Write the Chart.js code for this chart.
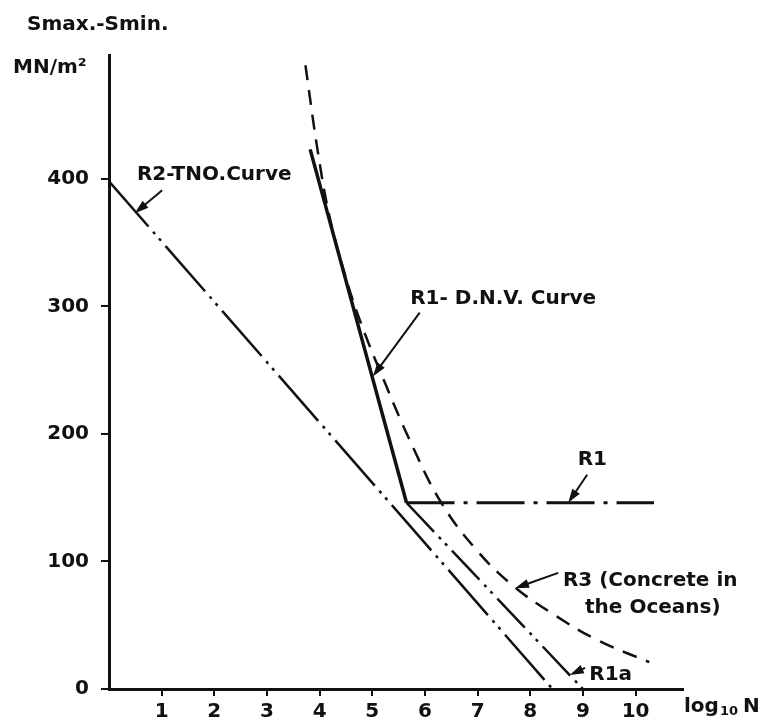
<!DOCTYPE html>
<html>
<head>
<meta charset="utf-8">
<script src="https://cdn.jsdelivr.net/npm/chart.js@4.4.1/dist/chart.umd.min.js"></script>
<style>
    body { margin: 0; background: #fff; }
    canvas { display: block; }
</style>
</head>
<body>
<canvas id="chart" width="769" height="728"></canvas>
<script>
// S-N curves (x = log10 N, y = Smax-Smin in MN/m2)
const xTicks = [1, 2, 3, 4, 5, 6, 7, 8, 9, 10];
const yTicks = [0, 100, 200, 300, 400];

// R2 - TNO curve
const r2X = [0, 8.42];
const r2Y = [398, 0];

// R1 - D.N.V. curve, steep part then the flat part
const r1X = [3.82, 5.65];
const r1Y = [423, 146];
const r1FlatX = [5.65, 10.35];
const r1FlatY = [146, 146];

// R1a
const r1aX = [5.65, 9.0];
const r1aY = [146, 0];

// R3 - concrete in the oceans
const r3X = [3.73, 3.97, 4.2, 4.5, 4.8, 5.24, 5.7, 6.31, 7.0, 7.7, 8.5, 9.29, 10.26];
const r3Y = [489, 420, 368, 322, 285, 240, 196, 146, 108, 80, 57, 38, 21];

const FAMILY = '"DejaVu Sans", sans-serif';
const FONT = 'bold 20px ' + FAMILY;
const INK = '#111';

function points(xs, ys) {
    return xs.map((x, i) => ({ x: x, y: ys[i] }));
}

function line(xs, ys, width, dash, extra) {
    return Object.assign({
        data: points(xs, ys),
        showLine: true,
        borderColor: INK,
        borderWidth: width,
        borderDash: dash,
        pointRadius: 0,
        fill: false
    }, extra || {});
}

// labels and arrows, placed in data units
const notes = [
    { text: 'R2-TNO.Curve', x: 0.53, y: 403 },
    { text: 'R1- D.N.V. Curve', x: 5.72, y: 306 },
    { text: 'R1', x: 8.9, y: 180 },
    { text: 'R3 (Concrete in', x: 8.62, y: 85 },
    { text: 'the Oceans)', x: 9.04, y: 64 },
    { text: 'R1a', x: 9.12, y: 11 }
];
const arrows = [
    { from: [1.01, 391], to: [0.49, 373] },
    { from: [5.9, 295], to: [5.01, 245] },
    { from: [9.08, 168], to: [8.72, 146] },
    { from: [8.53, 91], to: [7.71, 79] },
    { from: [9.04, 16.5], to: [8.75, 11] }
];

function drawArrow(ctx, x1, y1, x2, y2) {
    const ang = Math.atan2(y2 - y1, x2 - x1);
    const len = 14, half = 4.5;
    ctx.beginPath();
    ctx.moveTo(x1, y1);
    ctx.lineTo(x2 - Math.cos(ang) * len * 0.8, y2 - Math.sin(ang) * len * 0.8);
    ctx.lineWidth = 2;
    ctx.stroke();
    ctx.beginPath();
    ctx.moveTo(x2, y2);
    ctx.lineTo(x2 - Math.cos(ang) * len - Math.sin(ang) * half, y2 - Math.sin(ang) * len + Math.cos(ang) * half);
    ctx.lineTo(x2 - Math.cos(ang) * len + Math.sin(ang) * half, y2 - Math.sin(ang) * len - Math.cos(ang) * half);
    ctx.closePath();
    ctx.fill();
}

const notesPlugin = {
    id: 'notes',
    afterDraw(chart) {
        const ctx = chart.ctx;
        const xs = chart.scales.x, ys = chart.scales.y;
        const area = chart.chartArea;
        ctx.save();
        ctx.fillStyle = INK;
        ctx.strokeStyle = INK;
        ctx.font = FONT;
        ctx.textBaseline = 'middle';
        ctx.textAlign = 'left';
        notes.forEach(n => ctx.fillText(n.text, xs.getPixelForValue(n.x), ys.getPixelForValue(n.y)));
        arrows.forEach(a => drawArrow(ctx,
            xs.getPixelForValue(a.from[0]), ys.getPixelForValue(a.from[1]),
            xs.getPixelForValue(a.to[0]), ys.getPixelForValue(a.to[1])));

        // y axis title, above the axis
        ctx.fillText('Smax.-Smin.', 27, 25);
        ctx.fillText('MN/m\u00b2', 13, 68);

        // x axis title: log10 N
        let px = area.right + 1;
        const py = area.bottom + 18;
        ctx.fillText('log', px, py);
        px += ctx.measureText('log').width + 1;
        ctx.font = 'bold 13px ' + FAMILY;
        ctx.fillText('10', px, py + 5);
        px += ctx.measureText('10').width + 5;
        ctx.font = FONT;
        ctx.fillText('N', px, py);
        ctx.restore();
    }
};

new Chart(document.getElementById('chart'), {
    type: 'scatter',
    data: {
        datasets: [
            line(r2X, r2Y, 2.5, [60, 7, 3, 6, 3, 7]),
            line(r1X, r1Y, 3.5, []),
            line(r1FlatX, r1FlatY, 3, [48, 9, 4, 9]),
            line(r1aX, r1aY, 2.5, [40, 7, 3, 6, 3, 7]),
            line(r3X, r3Y, 2.5, [15, 10], { tension: 0.4 })
        ]
    },
    options: {
        responsive: false,
        animation: false,
        layout: { padding: { top: 55, right: 86, left: 0, bottom: 0 } },
        plugins: {
            legend: { display: false },
            tooltip: { enabled: false }
        },
        scales: {
            x: {
                type: 'linear',
                min: 0,
                max: 10.9,
                afterFit: s => { s.height = 39; },
                afterBuildTicks: s => { s.ticks = xTicks.map(v => ({ value: v })); },
                border: { display: true, color: INK, width: 3 },
                grid: { drawOnChartArea: false, drawTicks: true, tickLength: 7, color: INK, lineWidth: 2 },
                ticks: { color: INK, font: { family: FAMILY, size: 20, weight: 'bold' }, padding: 4, maxRotation: 0 }
            },
            y: {
                type: 'linear',
                min: 0,
                max: 497,
                afterFit: s => { s.width = 109; },
                afterBuildTicks: s => { s.ticks = yTicks.map(v => ({ value: v })); },
                border: { display: true, color: INK, width: 3 },
                grid: { drawOnChartArea: false, drawTicks: true, tickLength: 8, color: INK, lineWidth: 2 },
                ticks: { color: INK, font: { family: FAMILY, size: 20, weight: 'bold' }, padding: 12 }
            }
        }
    },
    plugins: [notesPlugin]
});
</script>
</body>
</html>
